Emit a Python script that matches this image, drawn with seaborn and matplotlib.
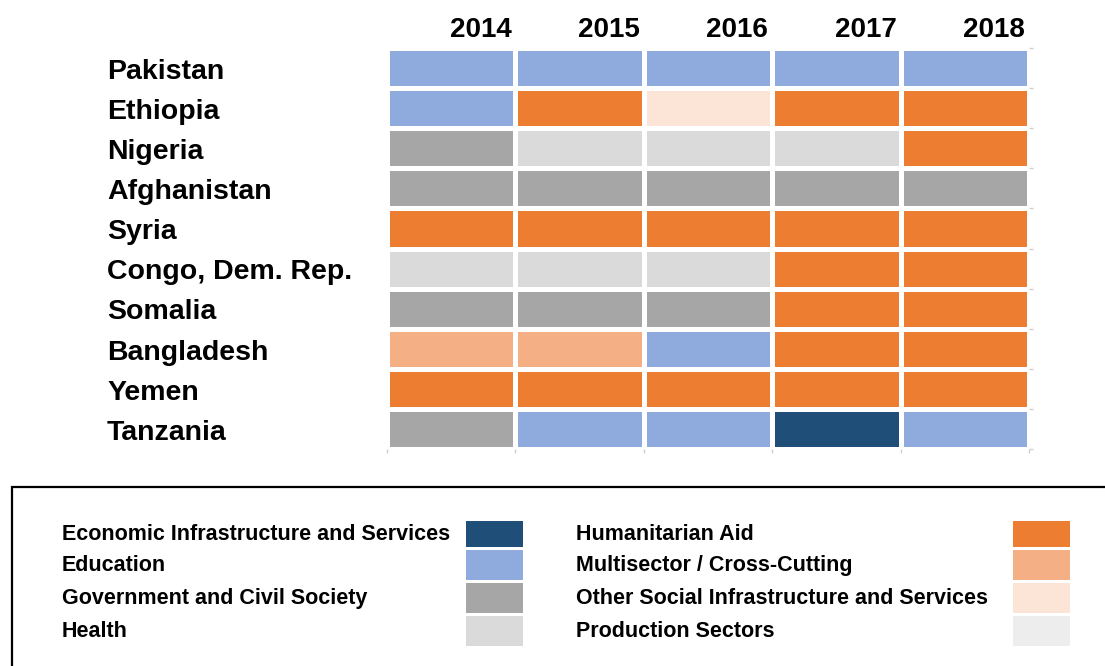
import numpy as np
import matplotlib
matplotlib.use("Agg")
import matplotlib.pyplot as plt
import seaborn as sns
from matplotlib.colors import ListedColormap
from matplotlib.patches import Rectangle
from matplotlib.transforms import blended_transform_factory

# sectors (legend order) and their colours
sectors = [
    "Economic Infrastructure and Services",
    "Education",
    "Government and Civil Society",
    "Health",
    "Humanitarian Aid",
    "Multisector / Cross-Cutting",
    "Other Social Infrastructure and Services",
    "Production Sectors",
]
sector_colors = ["#1F4E79", "#8FAADC", "#A6A6A6", "#DADADA",
                 "#ED7D31", "#F4B084", "#FCE4D6", "#EDEDED"]

years = ["2014", "2015", "2016", "2017", "2018"]
countries = ["Pakistan", "Ethiopia", "Nigeria", "Afghanistan", "Syria",
             "Congo, Dem. Rep.", "Somalia", "Bangladesh", "Yemen", "Tanzania"]

# top sector per country and year
top_sector = [
    ["Education", "Education", "Education", "Education", "Education"],
    ["Education", "Humanitarian Aid", "Other Social Infrastructure and Services", "Humanitarian Aid", "Humanitarian Aid"],
    ["Government and Civil Society", "Health", "Health", "Health", "Humanitarian Aid"],
    ["Government and Civil Society"] * 5,
    ["Humanitarian Aid"] * 5,
    ["Health", "Health", "Health", "Humanitarian Aid", "Humanitarian Aid"],
    ["Government and Civil Society", "Government and Civil Society", "Government and Civil Society", "Humanitarian Aid", "Humanitarian Aid"],
    ["Multisector / Cross-Cutting", "Multisector / Cross-Cutting", "Education", "Humanitarian Aid", "Humanitarian Aid"],
    ["Humanitarian Aid"] * 5,
    ["Government and Civil Society", "Education", "Education", "Economic Infrastructure and Services", "Education"],
]

codes = np.array([[sectors.index(s) for s in row] for row in top_sector])

sns.set_style("white")
plt.rcParams["font.family"] = ["Liberation Sans", "DejaVu Sans"]
plt.rcParams["text.color"] = "black"

W, H = 1105, 666
fig = plt.figure(figsize=(W / 100, H / 100), dpi=100)
ax = fig.add_axes([387 / W, 1 - 449 / H, (1029 - 387) / W, (449 - 48) / H])

sns.heatmap(codes, ax=ax, cmap=ListedColormap(sector_colors), vmin=-0.5,
            vmax=len(sectors) - 0.5, cbar=False, linewidths=2.5,
            linecolor="white", square=False)

# column headers, right-aligned over each cell
for j, y in enumerate(years):
    ax.text(j + 0.97, -0.275, y, fontsize=20, fontweight="bold",
            ha="right", va="baseline")

# row labels, left-aligned
trans = blended_transform_factory(fig.transFigure, ax.transData)
for i, c in enumerate(countries):
    ax.text(107 / W, i + 0.77, c, transform=trans, fontsize=20.5,
            fontweight="bold", ha="left", va="baseline")

# faint boundary ticks like the original
ax.set_xticks([])
ax.set_yticks([])
ax.set_xticks(np.arange(len(years) + 1), minor=True)
ax.tick_params(axis="x", which="minor", bottom=True, top=False, length=3,
               color="#D0D0D0", width=1, labelbottom=False)
ax.set_yticks(np.arange(len(countries) + 1), minor=True)
ax.tick_params(axis="y", which="minor", right=True, left=False, length=3,
               color="#D0D0D0", width=1, labelleft=False)
for s in ax.spines.values():
    s.set_visible(False)

# legend box
fig.patches.append(Rectangle((12 / W, -0.05), 1.2, (1 - 487 / H) + 0.05,
                             transform=fig.transFigure, fill=False,
                             edgecolor="black", linewidth=1.6))

row_tops = [521, 550, 583, 616]
row_heights = [26, 30, 30, 30]
col_text_x = [62, 576]
col_swatch_x = [466, 1013]
for k, (name, color) in enumerate(zip(sectors, sector_colors)):
    col, row = divmod(k, 4)
    top = row_tops[row]
    h = row_heights[row]
    fig.patches.append(Rectangle((col_swatch_x[col] / W, 1 - (top + h) / H),
                                 57 / W, h / H, transform=fig.transFigure,
                                 facecolor=color, edgecolor="none"))
    fig.text(col_text_x[col] / W, 1 - (top + h / 2 + 0.5) / H, name,
             fontsize=15.5, fontweight="bold", ha="left", va="center")

fig.savefig("out.png", dpi=100)
